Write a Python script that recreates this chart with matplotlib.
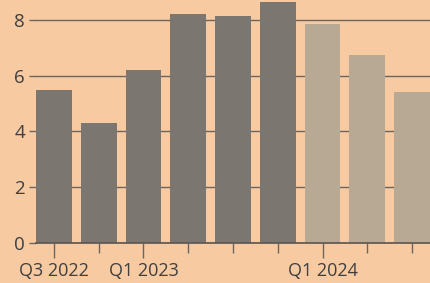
import matplotlib
matplotlib.use("Agg")
import matplotlib.pyplot as plt

# quarterly values
quarters = ["Q3 2022", "Q4 2022", "Q1 2023", "Q2 2023", "Q3 2023",
            "Q4 2023", "Q1 2024", "Q2 2024", "Q3 2024"]
values = [5.48, 4.3, 6.2, 8.2, 8.14, 8.64, 7.85, 6.74, 5.41]
is_forecast = [False] * 6 + [True] * 3
labelled = ["Q3 2022", "Q1 2023", "Q1 2024"]
y_ticks = [0, 2, 4, 6, 8]

BG = "#f7caa2"
DARK = "#7b7770"
LIGHT = "#b7a993"
TEXT = "#3f3f3f"

plt.rcParams["font.family"] = ["Open Sans", "DejaVu Sans"]

fig = plt.figure(figsize=(4.3, 2.83), dpi=100)
fig.patch.set_facecolor(BG)
ax = fig.add_axes([36 / 430, 40 / 283, 1 - 36 / 430, 1 - 40 / 283])
ax.set_facecolor(BG)

x = list(range(len(quarters)))
colors = [LIGHT if f else DARK for f in is_forecast]
ax.bar(x, values, width=0.8, color=colors, zorder=2)

ax.set_ylim(0, 8.71)
ax.set_xlim(-0.4, 8.4)
ax.set_yticks(y_ticks)
ax.yaxis.grid(True, color="#6b6660", linewidth=1.0, zorder=1)
ax.tick_params(axis="y", length=5, width=1, color="#6b6660",
               labelsize=13.5, labelcolor=TEXT, pad=3)

major = [quarters.index(q) for q in labelled]
minor = [i for i in x if i not in major]
ax.set_xticks(major)
ax.set_xticklabels(labelled)
ax.set_xticks(minor, minor=True)
ax.tick_params(axis="x", which="major", length=11, width=1, color="#6b6660",
               labelsize=13, labelcolor=TEXT, pad=3)
ax.tick_params(axis="x", which="minor", length=7, width=1, color="#6b6660")

for s in ["left", "right", "top"]:
    ax.spines[s].set_visible(False)
ax.spines["bottom"].set_color("#5a5550")
ax.spines["bottom"].set_linewidth(1.2)
ax.spines["bottom"].set_zorder(3)

fig.savefig("out.png", dpi=100, facecolor=BG)
